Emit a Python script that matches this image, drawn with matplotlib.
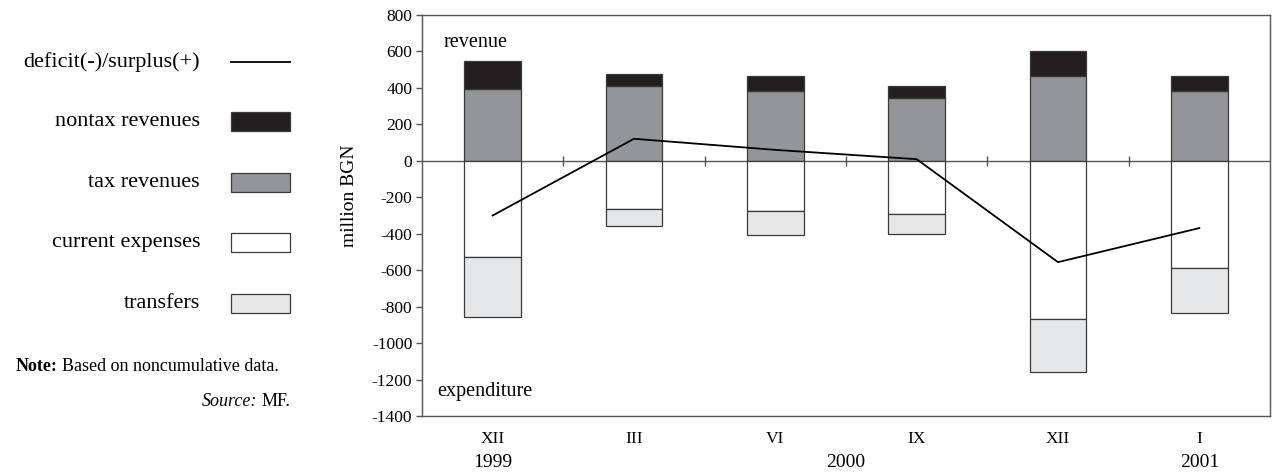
import numpy as np
import matplotlib
matplotlib.use("Agg")
import matplotlib.pyplot as plt
from matplotlib.patches import Rectangle
from matplotlib.lines import Line2D
import matplotlib.transforms as mtransforms

plt.rcParams['font.family'] = ['Liberation Serif', 'DejaVu Serif']

# Monthly budget figures, million BGN
months = ['XII', 'III', 'VI', 'IX', 'XII', 'I']
years = ['1999', '2000', '2001']
year_pos = [0, 2.5, 5]
tax_revenues = [395, 409, 385, 347, 466, 385]
nontax_revenues = [155, 70, 83, 62, 138, 79]
current_expenses = [-526, -267, -277, -292, -870, -589]
transfers = [-329, -89, -132, -108, -291, -244]
balance = [-300, 121, 60, 9, -556, -369]

c_nontax = '#231f20'
c_tax = '#939598'
c_current = '#ffffff'
c_transfer = '#e6e7e8'
edge = '#3a3a3a'
axis_col = '#555555'

fig = plt.figure(figsize=(12.79, 4.73), dpi=100)
ax = fig.add_axes([422 / 1279, 1 - 416 / 473, 848 / 1279, 401 / 473])

x = np.arange(len(months))
w = 0.40
ax.bar(x, tax_revenues, w, color=c_tax, edgecolor=edge, linewidth=0.9, zorder=2)
ax.bar(x, nontax_revenues, w, bottom=tax_revenues, color=c_nontax,
       edgecolor=edge, linewidth=0.9, zorder=2)
ax.bar(x, current_expenses, w, color=c_current, edgecolor=edge, linewidth=0.9, zorder=2)
ax.bar(x, transfers, w, bottom=current_expenses, color=c_transfer,
       edgecolor=edge, linewidth=0.9, zorder=2)

# zero line with separators between periods
ax.axhline(0, color=axis_col, lw=1.0, zorder=1)
bounds = x[:-1] + 0.5
ax.plot(bounds, np.zeros_like(bounds), ls='none', marker='|', ms=6.5,
        mew=1.0, color=axis_col, zorder=1)

ax.plot(x, balance, color='black', lw=1.3, zorder=3)

ax.set_xlim(-0.5, 5.5)
ax.set_ylim(-1400, 800)
yt = np.arange(-1400, 801, 200)
ax.set_yticks(yt)
ax.set_yticklabels([str(v) for v in yt], fontsize=12.5)
ax.set_xticks(x)
ax.set_xticklabels(months, fontsize=12.5)
ax.tick_params(axis='x', length=0, pad=11)
ax.tick_params(axis='y', length=4, width=1.0, color=axis_col, pad=3)
for s in ax.spines.values():
    s.set_color(axis_col)
    s.set_linewidth(1.0)

trans = mtransforms.blended_transform_factory(ax.transData, ax.transAxes)
for yr, px in zip(years, year_pos):
    ax.text(px, -0.117, yr, transform=trans, ha='center', va='center', fontsize=14)

ax.set_ylabel('million BGN', fontsize=14)
ax.yaxis.set_label_coords(-0.075, 0.549)
ax.text(-0.345, 648, 'revenue', fontsize=14.5, va='center', ha='left')
ax.text(-0.39, -1267, 'expenditure', fontsize=14.5, va='center', ha='left')

# legend panel, in pixel coordinates
lg = fig.add_axes([0, 0, 383.7 / 1279, 1])
lg.set_xlim(0, 383.7)
lg.set_ylim(473, 0)
lg.axis('off')

rows = [62, 121, 182, 242, 303]
labels = ['deficit(-)/surplus(+)', 'nontax revenues', 'tax revenues',
          'current expenses', 'transfers']
fills = [None, c_nontax, c_tax, c_current, c_transfer]
for yy, lab, fc in zip(rows, labels, fills):
    lg.text(200, yy, lab, ha='right', va='center', fontsize=16)
    if fc is None:
        lg.add_line(Line2D([231, 290], [yy, yy], color='black', lw=1.3))
    else:
        lg.add_patch(Rectangle((231, yy - 9.5), 59, 19, facecolor=fc,
                               edgecolor=edge, lw=0.9))

fig.canvas.draw()
renderer = fig.canvas.get_renderer()

note_b = lg.text(16, 366, 'Note:', ha='left', va='center', fontsize=13, fontweight='bold')
bb = note_b.get_window_extent(renderer)
note_x = lg.transData.inverted().transform((bb.x1, 0))[0] + 4
lg.text(note_x, 366, 'Based on noncumulative data.', ha='left', va='center', fontsize=13)

mf = lg.text(290, 401, 'MF.', ha='right', va='center', fontsize=13)
bb = mf.get_window_extent(renderer)
src_x = lg.transData.inverted().transform((bb.x0, 0))[0] - 4
lg.text(src_x, 401, 'Source:', ha='right', va='center', fontsize=13, style='italic')

fig.savefig('out.png', dpi=100)
